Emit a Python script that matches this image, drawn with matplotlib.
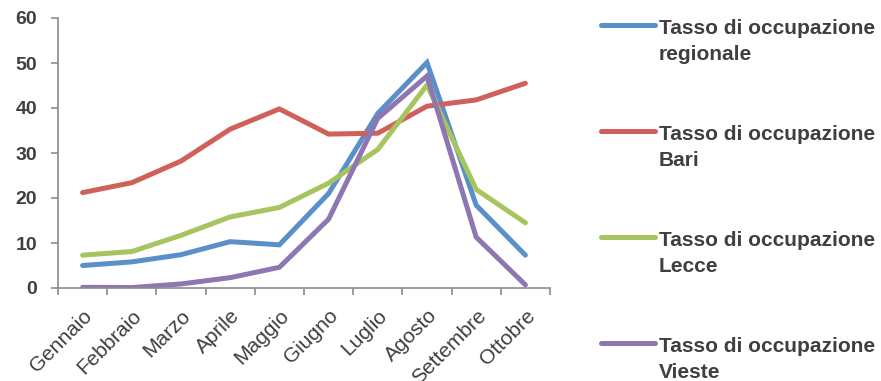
import matplotlib
matplotlib.use("Agg")
import matplotlib.pyplot as plt
from matplotlib.lines import Line2D
import numpy as np

plt.rcParams['font.family'] = ['Liberation Sans', 'DejaVu Sans']

mesi = ["Gennaio", "Febbraio", "Marzo", "Aprile", "Maggio", "Giugno",
        "Luglio", "Agosto", "Settembre", "Ottobre"]

regionale = [5.0, 5.8, 7.4, 10.3, 9.6, 21.0, 38.8, 50.1, 18.4, 7.3]
bari = [21.2, 23.4, 28.2, 35.3, 39.8, 34.2, 34.4, 40.4, 41.8, 45.5]
lecce = [7.3, 8.1, 11.7, 15.8, 17.9, 23.3, 30.8, 45.1, 21.9, 14.5]
vieste = [0.15, 0.1, 0.9, 2.3, 4.6, 15.3, 37.7, 47.1, 11.3, 0.7]

serie = [
    ("Tasso di occupazione", "regionale", regionale, "#5B8FC9"),
    ("Tasso di occupazione", "Bari", bari, "#D0605A"),
    ("Tasso di occupazione", "Lecce", lecce, "#A6C55E"),
    ("Tasso di occupazione", "Vieste", vieste, "#8E76B2"),
]

W, H = 881, 381
fig = plt.figure(figsize=(W / 100, H / 100), dpi=100)
ax = fig.add_axes([58 / W, 1 - 288 / H, (550 - 58) / W, (288 - 18) / H])

x = np.arange(len(mesi))
for r1, r2, vals, col in serie:
    ax.plot(x, vals, color=col, lw=3.6, solid_capstyle='round',
            solid_joinstyle='miter')

axis_col = "#8C8C8C"
text_col = "#3F3F3F"
ax.set_xlim(-0.5, len(mesi) - 0.5)
ax.set_ylim(0, 60)
ax.set_yticks(range(0, 61, 10))
ax.set_xticks(x)
ax.set_xticklabels(mesi, rotation=45, ha='right', rotation_mode='anchor',
                   fontsize=15, color=text_col)
ax.set_xticks(np.arange(-0.5, len(mesi)), minor=True)
ax.tick_params(axis='x', which='major', length=0, pad=13)
ax.tick_params(axis='x', which='minor', length=5, width=1.2, color=axis_col)
ax.tick_params(axis='y', length=5, width=1.2, color=axis_col, labelsize=14,
               labelcolor=text_col, pad=10)
for t in ax.get_yticklabels():
    t.set_fontweight('bold')
for t in ax.get_xticklabels():
    t.set_x(t.get_position()[0])

for s in ['top', 'right']:
    ax.spines[s].set_visible(False)
for s in ['left', 'bottom']:
    ax.spines[s].set_color(axis_col)
    ax.spines[s].set_linewidth(1.2)

# Legend: handle aligned with the first line of each two-line label
legend_y = [25, 131, 237, 343]
for (r1, r2, vals, col), yy in zip(serie, legend_y):
    fy = 1 - yy / H
    fig.add_artist(Line2D([601 / W, 655 / W], [fy, fy], color=col, lw=3.6,
                          solid_capstyle='round', transform=fig.transFigure))
    fig.text(659 / W, 1 - (yy + 2) / H, r1, fontsize=15, fontweight='bold',
             color=text_col, ha='left', va='center_baseline')
    fig.text(659 / W, 1 - (yy + 27) / H, r2, fontsize=15, fontweight='bold',
             color=text_col, ha='left', va='center_baseline')

fig.savefig("out.png", dpi=100)
